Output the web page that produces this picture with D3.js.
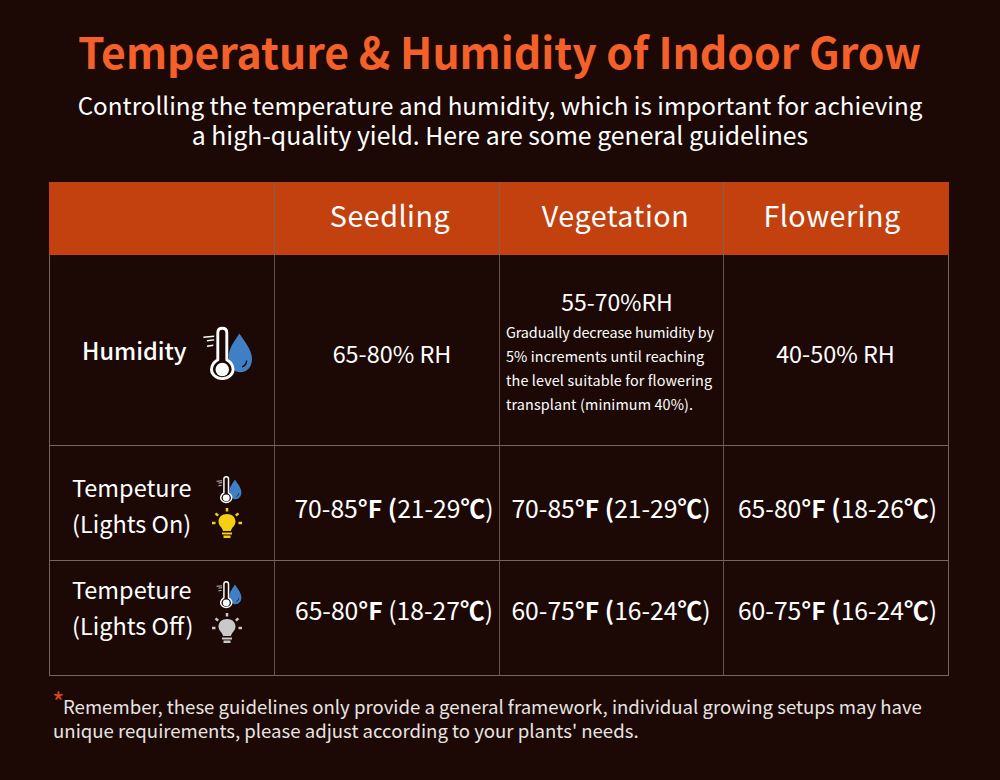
<!DOCTYPE html>
<html lang="en">
<head>
<meta charset="UTF-8">
<title>Temperature & Humidity of Indoor Grow</title>
<script src="https://cdn.jsdelivr.net/npm/d3@7"></script>
<style>
  html, body { margin: 0; padding: 0; background: #1c0905; }
  svg { display: block; }
  text { font-family: "Noto Sans CJK SC", "Noto Sans", sans-serif; fill: #fff; }
</style>
</head>
<body>
<svg id="chart" width="1000" height="780"></svg>
<script>
const title = "Temperature & Humidity of Indoor Grow"
const subtitle = ["Controlling the temperature and humidity, which is important for achieving",
  "a high-quality yield. Here are some general guidelines"]
const stages = ["Seedling", "Vegetation", "Flowering"]
const rowNames = ["humidity", "on", "off"]
const humidity = ["65-80% RH", "55-70%RH", "40-50% RH"]
const humidityNote = ["Gradually decrease humidity by", "5% increments until reaching",
  "the level suitable for flowering", "transplant (minimum 40%)."]
const lightsOnF = ["70-85", "70-85", "65-80"]
const lightsOnC = ["21-29", "21-29", "18-26"]
const lightsOffF = ["65-80", "60-75", "60-75"]
const lightsOffC = ["18-27", "16-24", "16-24"]
const footnote = ["Remember, these guidelines only provide a general framework, individual growing setups may have",
  "unique requirements, please adjust according to your plants' needs."]

const svg = d3.select("#chart")
const bg = "#1c0905"
const line = "#77665d"

const colX = d3.scaleOrdinal().domain(["label"].concat(stages)).range([49.5, 274.5, 499.5, 723.5])
const rowY = d3.scaleOrdinal().domain(["head"].concat(rowNames)).range([182, 255, 445.5, 560.5])
const right = 948.5, bottom = 675.5

svg.append("text").attr("x", 499.5).attr("y", 69)
  .attr("text-anchor", "middle").attr("font-size", 42.7).attr("font-weight", 700)
  .style("fill", "#f4602a").text(title)

svg.selectAll(".sub").data(subtitle).join("text")
  .attr("x", 500).attr("y", (d, i) => 115 + i * 30)
  .attr("text-anchor", "middle").attr("font-size", (d, i) => i == 0 ? 24.2 : 24.8).text(d => d)

// header band
svg.append("rect").attr("x", 49).attr("y", rowY("head"))
  .attr("width", 900).attr("height", rowY("humidity") - rowY("head")).attr("fill", "#c2410f")

// grid
const vLines = [colX("label"), colX("Seedling"), colX("Vegetation"), colX("Flowering"), right]
svg.selectAll(".v").data(vLines).join("line")
  .attr("x1", d => d).attr("x2", d => d)
  .attr("y1", (d, i) => i == 0 || i == 4 ? rowY("humidity") : rowY("head")).attr("y2", bottom)
  .attr("stroke", (d, i) => i == 0 || i == 4 ? "#8d7c72" : line).attr("stroke-opacity", .8)
svg.selectAll(".h").data([rowY("on"), rowY("off"), bottom]).join("line")
  .attr("x1", 49).attr("x2", 949).attr("y1", d => d).attr("y2", d => d)
  .attr("stroke", line)

// header labels
const stageX = [390, 615.5, 832]
svg.selectAll(".stage").data(stages).join("text")
  .attr("x", (d, i) => stageX[i]).attr("y", 227)
  .attr("text-anchor", "middle").attr("font-size", 28.7).attr("letter-spacing", .5).text(d => d)

// humidity row
const humidityX = [392, 617, 835.5]
stages.forEach((s, i) => {
  svg.append("text").attr("x", humidityX[i]).attr("y", i == 1 ? 311 : 362.5)
    .attr("text-anchor", "middle").attr("font-size", i == 1 ? 23 : 23.4).text(humidity[i])
})
const noteWidth = [208, 198, 206, 187]
svg.selectAll(".note").data(humidityNote).join("text")
  .attr("x", 506).attr("y", (d, i) => 338 + i * 24)
  .attr("textLength", (d, i) => noteWidth[i])
  .attr("font-size", 14.4).text(d => d)

// temperature rows, the units are set heavier than the numbers
function tempCell(x, y, f, c, boldParen) {
  const t = svg.append("text").attr("x", x).attr("y", y)
    .attr("text-anchor", "middle").attr("font-size", 24.7)
  t.append("tspan").text(f)
  t.append("tspan").attr("font-weight", 700).text("°F")
  t.append("tspan").attr("font-weight", boldParen ? 700 : 400).text(" (")
  t.append("tspan").text(c)
  t.append("tspan").attr("font-weight", 700).text("℃")
  t.append("tspan").text(")")
}
const cellX = [394, 611, 837.5]
stages.forEach((s, i) => {
  tempCell(cellX[i], 518, lightsOnF[i], lightsOnC[i], true)
  tempCell(cellX[i], 620, lightsOffF[i], lightsOffC[i], i != 0)
})

// row labels
svg.append("text").attr("x", 82).attr("y", 360).attr("font-size", 23.5).attr("font-weight", 500).text("Humidity")
const labels = [["Tempeture", 72, 497], ["(Lights On)", 72, 533], ["Tempeture", 72, 599], ["(Lights Off)", 72, 635]]
svg.selectAll(".rowlabel").data(labels).join("text")
  .attr("x", d => d[1]).attr("y", d => d[2]).attr("font-size", 23.5).text(d => d[0])

// icons
function thermo(x, y, k) {
  const g = svg.append("g").attr("transform", `translate(${x},${y}) scale(${k})`)
  g.append("path").attr("d", "M36 4 C41 12 50 22 50 32 C50 41 45 47 37 47 C30 47 24 40 24 30 C24 20 31 12 36 4Z")
    .attr("fill", "#3f7fc6")
  g.append("path").attr("d", "M44 34 C44 38 42 40 39 41").attr("fill", "none")
    .attr("stroke", bg).attr("stroke-width", 1.6)
  g.append("path").attr("d", "M12 3 C12 0 14 -2 17 -2 C20 -2 22 0 22 3 L22 33 C27 36 29 40 29 44 C29 49 24 54 17 54 C10 54 5 49 5 44 C5 40 7 36 12 33Z")
    .attr("fill", bg).attr("stroke", "#fff").attr("stroke-width", 3.2)
  g.append("circle").attr("cx", 17).attr("cy", 44).attr("r", 7.5).attr("fill", "#fff")
  g.selectAll("line").data([[-4, 8, 12], [0, 12, 8], [0, 18, 7]]).join("line")
    .attr("x1", d => d[0]).attr("x2", d => d[0] + d[2]).attr("y1", d => d[1]).attr("y2", d => d[1] - 1)
    .attr("stroke", "#fff").attr("stroke-width", 1.6)
}
thermo(207, 330, 0.9)
thermo(218.4, 477.6, 0.46)
thermo(218.4, 582.6, 0.46)

function bulb(cx, cy, color) {
  const g = svg.append("g").attr("transform", `translate(${cx},${cy})`)
  g.append("path").attr("d", "M-4 8 C-4 5 -8.5 3 -8.5 -1.5 C-8.5 -6 -5 -9 0 -9 C5 -9 8.5 -6 8.5 -1.5 C8.5 3 4 5 4 8Z").attr("fill", color)
  g.append("rect").attr("x", -5).attr("y", 9.5).attr("width", 10).attr("height", 2).attr("fill", color)
  g.append("rect").attr("x", -3.5).attr("y", 12.5).attr("width", 7).attr("height", 2.5).attr("fill", color)
  g.selectAll("line").data([0, 50, -50, 90, -90]).join("line")
    .attr("x1", 0).attr("x2", 0).attr("y1", -15).attr("y2", -11.5)
    .attr("transform", d => `rotate(${d})`)
    .attr("stroke", color).attr("stroke-width", 2.5)
}
bulb(227, 523, "#f4cf14")
bulb(227, 628, "#c9c9c9")

// footnote
svg.append("text").attr("x", 52).attr("y", 713).attr("font-size", 27).style("fill", "#d9481c").text("*")
svg.selectAll(".foot").data(footnote).join("text")
  .attr("x", (d, i) => i == 0 ? 63 : 53).attr("y", (d, i) => 714 + i * 24)
  .attr("font-size", 18.6).style("fill", "#e8e4e2").text(d => d)
</script>
</body>
</html>
